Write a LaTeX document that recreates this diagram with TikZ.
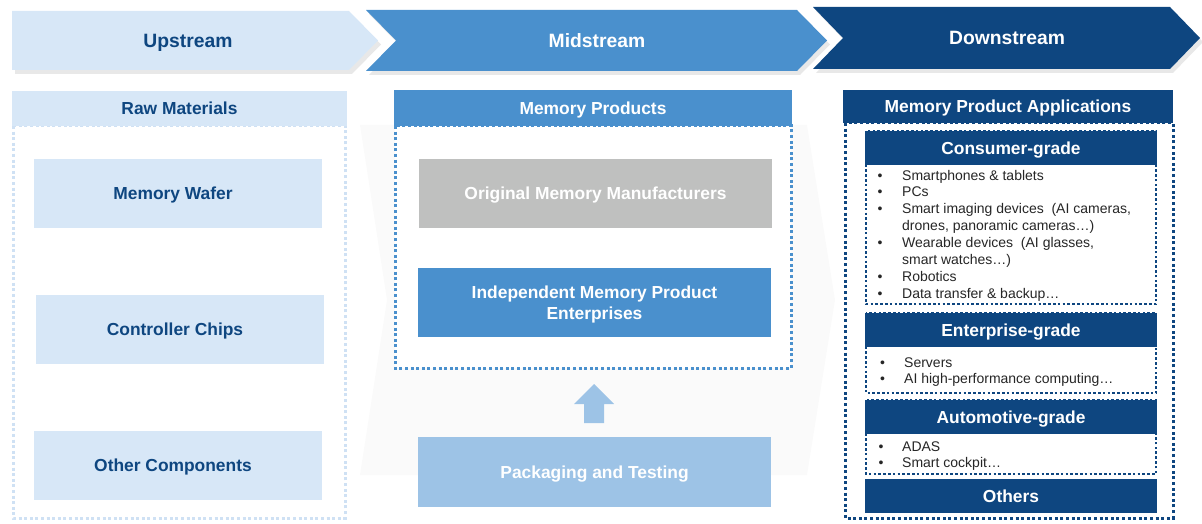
\documentclass[tikz,border=0pt]{standalone}
\usepackage{fontspec}
\setmainfont{Liberation Sans}
\usetikzlibrary{shadows}
\definecolor{lightblue}{HTML}{D7E7F7}
\definecolor{dotblue}{HTML}{CFE1F4}
\definecolor{midblue}{HTML}{4A90CD}
\definecolor{darkblue}{HTML}{0E4680}
\definecolor{paleblue}{HTML}{9DC3E6}
\definecolor{memgray}{HTML}{BFC0BF}
\definecolor{itemtext}{HTML}{262626}
\begin{document}
\begin{tikzpicture}[x=1pt, y=-1pt,
	chevron/.style={drop shadow={opacity=0.18, shadow xshift=3pt, shadow yshift=-4pt}},
	stage/.style={text height=13.8pt, text depth=0pt, font=\fontsize{19.3}{22}\selectfont\bfseries},
	box/.style={inner sep=0pt, align=center, text height=12.5pt, text depth=0pt, font=\fontsize{17.4}{21}\selectfont\bfseries},
	bigbox/.style={box, minimum width=288pt, minimum height=69pt},
	midbox/.style={box, text=white, minimum width=353pt, minimum height=69pt},
	grade/.style={box, fill=darkblue, text=white, minimum width=292pt, minimum height=34pt},
	dotline/.style={line width=3pt, dash pattern=on 3pt off 2.6pt},
	items/.style={inner sep=0pt, anchor=north west, text=itemtext, font=\fontsize{14}{16.9}\selectfont}]
	\useasboundingbox (0,0) rectangle (1202,524);
	\fill[black!2] (360,125) -- (807,125) -- (835,300) -- (807,475) -- (360,475) -- (387,300) -- cycle;
	\fill[darkblue, chevron] (813,7) -- (1170,7) -- (1200,38) -- (1170,69) -- (813,69) -- (843,38) -- cycle;
	\fill[midblue, chevron] (366,10) -- (797,10) -- (827,40.5) -- (797,71) -- (366,71) -- (396,40.5) -- cycle;
	\fill[lightblue, chevron] (12,11) -- (349,11) -- (378,40.5) -- (349,70) -- (12,70) -- cycle;
	\node[stage, text=darkblue] (upstream) at (188,41) {Upstream};
	\node[stage, text=white] (midstream) at (597,41) {Midstream};
	\node[stage, text=white] (downstream) at (1007,38) {Downstream};

	\draw[dotline, dotblue, fill=white] (13,126) rectangle (345,518);
	\node[box, fill=lightblue, text=darkblue, minimum width=335pt, minimum height=35pt] (raw) at (179.5,108.5) {Raw Materials};
	\foreach \name/\x/\y/\txt in {wafer/178/193.5/Memory Wafer, chips/180/329.5/Controller Chips, other/178/465.5/Other Components}
		\node[bigbox, fill=lightblue, text=darkblue] (\name) at (\x,\y) {\txt\hspace*{10pt}};

	\draw[dotline, midblue, fill=white] (395,126) rectangle (791,368);
	\node[box, fill=midblue, text=white, minimum width=398pt, minimum height=36pt] (products) at (593,108) {Memory Products};
	\node[midbox, fill=memgray] (original) at (595.5,193.5) {Original Memory Manufacturers};
	\node[midbox, fill=midblue, text height=33.5pt] (independent) at (594.5,302.5) {Independent Memory Product\\Enterprises};
	\node[midbox, fill=paleblue, minimum height=70pt] (packaging) at (594.5,472) {Packaging and Testing};
	\fill[paleblue] (584,423) -- (584,404) -- (574,404) -- (594,384) -- (614,404) -- (604,404) -- (604,423) -- cycle;

	\draw[dotline, darkblue, fill=white] (845,123) rectangle (1173,518);
	\node[box, fill=darkblue, text=white, minimum width=330pt, minimum height=33pt] (applications) at (1008,106.5) {Memory Product Applications};
	\foreach \top/\bot in {131/304, 313/393, 400/474}
		\draw[dotline, darkblue, line width=2.4pt, dash pattern=on 2.6pt off 2.2pt] (866,\top) rectangle (1156,\bot);
	\foreach \name/\y/\txt in {consumer/148/Consumer-grade, enterprise/330/Enterprise-grade, automotive/417/Automotive-grade, others/496/Others}
		\node[grade] (\name) at (1011,\y) {\txt};
	\node[items] (consumeritems) at (877.5,168) {\begin{tabular}{@{}p{24.5pt}@{}l@{}}
		\textbullet & Smartphones \& tablets\\
		\textbullet & PCs\\
		\textbullet & Smart imaging devices\ \ (AI cameras,\\
		& drones, panoramic cameras…)\\
		\textbullet & Wearable devices\ \ (AI glasses,\\
		& smart watches…)\\
		\textbullet & Robotics\\
		\textbullet & Data transfer \& backup…
	\end{tabular}};
	\node[items] (enterpriseitems) at (880,355) {\begin{tabular}{@{}p{24pt}@{}l@{}}
		\textbullet & Servers\\
		\textbullet & AI high-performance computing…
	\end{tabular}};
	\node[items] (automotiveitems) at (878.5,439) {\begin{tabular}{@{}p{23.5pt}@{}l@{}}
		\textbullet & ADAS\\
		\textbullet & Smart cockpit…
	\end{tabular}};
\end{tikzpicture}
\end{document}
